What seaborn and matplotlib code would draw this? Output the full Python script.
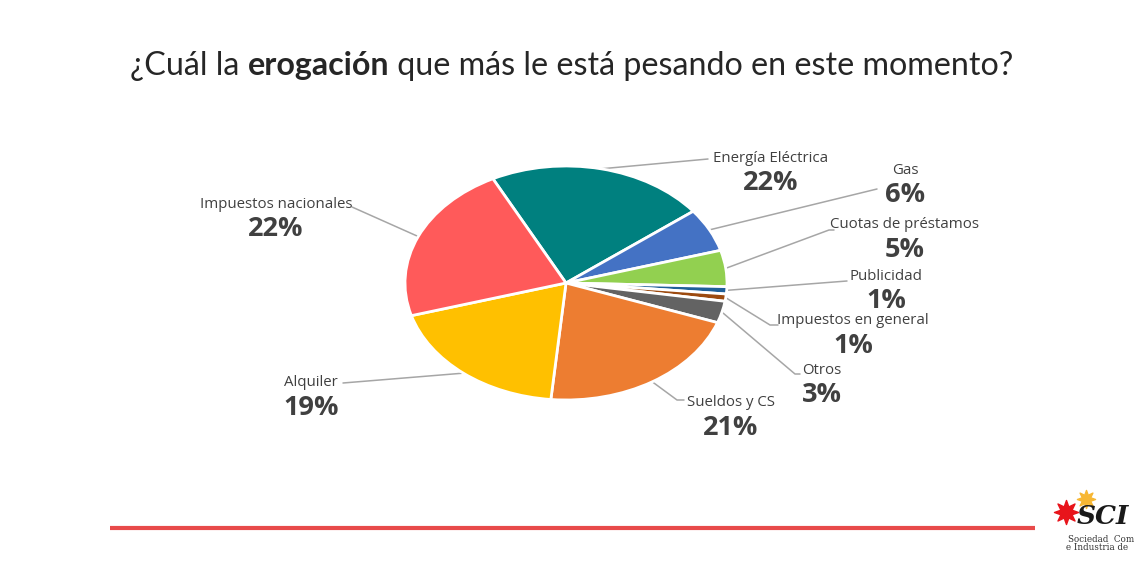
import matplotlib
matplotlib.use("Agg")
import matplotlib.pyplot as plt
import seaborn as sns
import numpy as np

# data
categories = ["Energía Eléctrica", "Gas", "Cuotas de préstamos", "Publicidad",
              "Impuestos en general", "Otros", "Sueldos y CS", "Alquiler",
              "Impuestos nacionales"]
shares = [22, 6, 5, 1, 1, 3, 21, 19, 22]
colors = ["#00807F", "#4472C4", "#92D050", "#1F5F99", "#9C4A0F", "#636363",
          "#ED7D31", "#FFC000", "#FF5A5A"]

# label layout (pixel coords): name centre, leader-line end, hook end
label_xy = [(771, 158), (905, 170), (905, 225), (886, 276), (853, 321),
            (822, 370), (731, 403), (311, 383), (276, 204)]
leader_end = [(708, 159), (877, 189), (829, 230), (847, 281), (770, 325),
              (795, 374), (677, 400), (343, 383), (352, 207)]
leader_hook = [None, None, (834, 230), None, (778, 325),
               (800, 374), (684, 400), None, None]

sns.set_theme(style="white")
plt.rcParams["font.family"] = ["Open Sans", "DejaVu Sans"]

W, H = 1140, 570
fig = plt.figure(figsize=(W / 100, H / 100), dpi=100)
fig.patch.set_facecolor("white")

ax_o = fig.add_axes([0, 0, 1, 1], zorder=0)
ax_o.set_xlim(0, W)
ax_o.set_ylim(H, 0)
ax_o.axis("off")

# pie (elliptical, as in the slide)
cx, cy, rx, ry = 566, 283, 161, 117
ax_p = fig.add_axes([(cx - rx) / W, (H - cy - ry) / H, 2 * rx / W, 2 * ry / H], zorder=1)
wedges, _ = ax_p.pie(shares, colors=colors, startangle=117, counterclock=False,
                     wedgeprops=dict(edgecolor="white", linewidth=2))
ax_p.set_aspect("auto")
ax_p.set_xlim(-1, 1)
ax_p.set_ylim(-1, 1)
ax_p.axis("off")

inv = ax_o.transData.inverted()
txt_col = "#404040"
line_col = "#A6A6A6"
for w, name, val, (lx, ly), end, hook in zip(wedges, categories, shares,
                                             label_xy, leader_end, leader_hook):
    mid = np.deg2rad((w.theta1 + w.theta2) / 2)
    sx, sy = inv.transform(ax_p.transData.transform((np.cos(mid), np.sin(mid))))
    xs, ys = [sx, end[0]], [sy, end[1]]
    if hook is not None:
        xs.append(hook[0])
        ys.append(hook[1])
    ax_o.plot(xs, ys, color=line_col, lw=1.1)
    ax_o.text(lx, ly, name, ha="center", va="center", fontsize=10.8, color=txt_col)
    ax_o.text(lx, ly + 25, f"{val}%", ha="center", va="center", fontsize=19.5,
              fontweight="bold", color=txt_col)

# title with bold word, fitted to slide width
parts = [("¿Cuál la ", "normal"), ("erogación", "bold"),
         (" que más le está pesando en este momento?", "normal")]
fig.canvas.draw()
r = fig.canvas.get_renderer()
size = 20
texts = [ax_o.text(0, 66, s, fontsize=size, fontweight=fw, family="Lato",
                   va="center", ha="left", color="#262626") for s, fw in parts]
widths = [t.get_window_extent(r).width for t in texts]
scale = 885 / sum(widths)
x = 130
for t in texts:
    t.set_fontsize(size * scale)
    t.set_x(x)
    x += t.get_window_extent(r).width

# bottom red rule
ax_o.plot([110, 1035], [528, 528], color="#E84A4A", lw=3, solid_capstyle="butt")

# logo
ax_o.scatter([1066], [512], marker=(8, 1, 0), s=300, color="#E8141B", zorder=3)
ax_o.scatter([1086], [499], marker=(8, 1, 0), s=170, color="#F7B733", zorder=3)
ax_o.text(1077, 516, "SCI", family="DejaVu Serif", fontstyle="italic",
          fontweight="bold", fontsize=19, va="center", ha="left", color="#1a1a1a")
ax_o.text(1068, 539, "Sociedad  Com", family="DejaVu Serif", fontsize=6.3,
          va="center", ha="left", color="#333333")
ax_o.text(1066, 548, "e Industria de", family="DejaVu Serif", fontsize=6.3,
          va="center", ha="left", color="#333333")

fig.savefig("out.png", dpi=100)
